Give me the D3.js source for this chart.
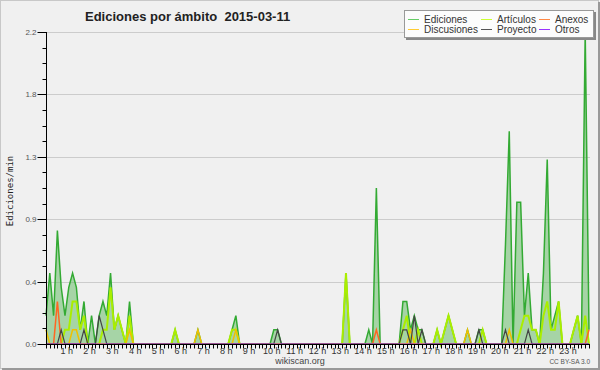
<!DOCTYPE html>
<html lang="es">
<head>
<meta charset="UTF-8">
<title>Ediciones por ámbito 2015-03-11</title>
<script src="https://d3js.org/d3.v7.min.js"></script>
<style>
  body { margin: 0; background: #ffffff; }
  svg { display: block; font-family: "Liberation Sans", Arial, sans-serif; }
  .series { fill: none; stroke-linejoin: miter; }
</style>
</head>
<body>
<svg width="600" height="370"></svg>
<script>
// one value every 10 minutes, 00:00 .. 23:50 (edits per minute)
const ediciones = [
  0.2,0.5,0.2,0.8,0.4,0.2,0.4,0.5,0.4,0.1,0.3,0,
  0.2,0,0.2,0.3,0.2,0.5,0.1,0.2,0.1,0,0.3,0,
  0,0,0,0,0,0,0,0,0,0,0.1,0,
  0,0,0,0,0.1,0,0,0,0,0,0,0,
  0,0.1,0.2,0,0,0,0,0,0,0,0,0,
  0.1,0.1,0,0,0,0,0,0,0,0,0,0,
  0,0,0,0,0,0,0,0.5,0,0,0,0,
  0,0.1,0,1.1,0,0,0,0,0,0,0.3,0.3,
  0.1,0.2,0.1,0.1,0,0,0,0.1,0,0.1,0.2,0.1,
  0,0,0,0.1,0,0,0.1,0.1,0,0,0,0,
  0,0.7,1.5,0,1.0,1.0,0.2,0.5,0.1,0.1,0,0.5,
  1.3,0.1,0.2,0.3,0,0,0,0.1,0.2,0,2.2,0.1
];
const articulos = [
  0,0,0,0,0,0.1,0.1,0.3,0.3,0.1,0.2,0,
  0,0,0,0.1,0.1,0.4,0.1,0.2,0.1,0,0.2,0,
  0,0,0,0,0,0,0,0,0,0,0.1,0,
  0,0,0,0,0,0,0,0,0,0,0,0,
  0,0.1,0.1,0,0,0,0,0,0,0,0,0,
  0,0,0,0,0,0,0,0,0,0,0,0,
  0,0,0,0,0,0,0,0.5,0,0,0,0,
  0,0,0,0,0,0,0,0,0,0,0.1,0.2,
  0,0,0.1,0,0,0,0,0.1,0,0.1,0.2,0.1,
  0,0,0,0,0,0,0,0.1,0,0,0,0,
  0,0,0,0,0,0.1,0.2,0.2,0.1,0.1,0,0.2,
  0.3,0.1,0.1,0.3,0,0,0,0.1,0.2,0,0.2,0
];
const anexos = [
  0,0,0,0.3,0,0,0,0,0,0,0,0,
  0,0,0,0,0,0,0,0,0,0,0,0,
  0,0,0,0,0,0,0,0,0,0,0,0,
  0,0,0,0,0,0,0,0,0,0,0,0,
  0,0,0,0,0,0,0,0,0,0,0,0,
  0,0,0,0,0,0,0,0,0,0,0,0,
  0,0,0,0,0,0,0,0,0,0,0,0,
  0,0,0,0.1,0,0,0,0,0,0,0,0,
  0,0,0,0,0,0,0,0,0,0,0,0,
  0,0,0,0,0,0,0,0,0,0,0,0,
  0,0,0,0,0,0,0,0,0,0,0,0,
  0,0,0,0,0,0,0,0,0,0,0,0.1
];
const discusiones = [
  0.1,0,0,0,0,0,0,0.1,0.1,0,0,0,
  0,0,0,0,0,0,0,0,0,0,0.1,0,
  0,0,0,0,0,0,0,0,0,0,0,0,
  0,0,0,0,0.1,0,0,0,0,0,0,0,
  0,0,0.1,0,0,0,0,0,0,0,0,0,
  0,0,0,0,0,0,0,0,0,0,0,0,
  0,0,0,0,0,0,0,0,0,0,0,0,
  0,0,0,0,0,0,0,0,0,0,0,0,
  0.1,0,0,0,0,0,0,0,0,0,0,0,
  0,0,0,0.1,0,0,0,0,0,0,0,0,
  0,0,0.1,0,0,0,0,0,0,0,0,0,
  0,0,0,0,0,0,0,0,0,0,0,0
];
const proyecto = [
  0,0,0,0,0.1,0,0,0,0,0,0.1,0,
  0,0,0.2,0.1,0,0,0,0,0,0,0,0,
  0,0,0,0,0,0,0,0,0,0,0,0,
  0,0,0,0,0,0,0,0,0,0,0,0,
  0,0,0,0,0,0,0,0,0,0,0,0,
  0,0.1,0,0,0,0,0,0,0,0,0,0,
  0,0,0,0,0,0,0,0,0,0,0,0,
  0,0,0,0,0,0,0,0,0,0,0.1,0.1,
  0,0.2,0,0.1,0,0,0,0,0,0,0,0,
  0,0,0,0,0,0,0.1,0,0,0,0,0,
  0,0.1,0,0,0,0,0,0.1,0,0,0,0,
  0,0,0,0,0,0,0,0,0,0,0,0
];
const otros = [
  0,0,0,0,0,0,0,0,0,0,0,0,
  0,0,0,0,0,0,0,0,0,0,0,0,
  0,0,0,0,0,0,0,0,0,0,0,0,
  0,0,0,0,0,0,0,0,0,0,0,0,
  0,0,0,0,0,0,0,0,0,0,0,0,
  0,0,0,0,0,0,0,0,0,0,0,0,
  0,0,0,0,0,0,0,0,0,0,0,0,
  0,0,0,0,0,0,0,0,0,0,0,0,
  0,0,0,0,0,0,0,0,0,0,0,0,
  0,0,0,0,0,0,0,0,0,0,0,0,
  0,0,0,0,0,0,0,0,0,0,0,0,
  0,0,0,0,0,0,0,0,0,0,0,0
];
const yTicks = [0, 0.44, 0.88, 1.32, 1.76, 2.2];
const hourLabels = ["1 h","2 h","3 h","4 h","5 h","6 h","7 h","8 h","9 h","10 h","11 h","12 h",
  "13 h","14 h","15 h","16 h","17 h","18 h","19 h","20 h","21 h","22 h","23 h"];

// drawing order: total first, the scopes on top of it
const series = [
  {name: "Ediciones", values: ediciones, color: "#33aa33", width: 1.5},
  {name: "Artículos", values: articulos, color: "#aaee00", width: 2},
  {name: "Anexos", values: anexos, color: "#ff6622", width: 1.5},
  {name: "Discusiones", values: discusiones, color: "#f0c000", width: 1.5},
  {name: "Proyecto", values: proyecto, color: "#444444", width: 1.2},
  {name: "Otros", values: otros, color: "#9933ff", width: 1.2}
];

const svg = d3.select("svg");
const W = 600, H = 370;

// background and frame
svg.append("rect").attr("width", W).attr("height", H).attr("fill", "#f0f0f0");
svg.append("rect").attr("x", 0.5).attr("y", 0.5).attr("width", W - 2).attr("height", H - 2)
  .attr("fill", "none").attr("stroke", "#c8c8c8");
svg.append("line").attr("x1", W - 1).attr("x2", W - 1).attr("y1", 2).attr("y2", H)
  .attr("stroke", "#999").attr("stroke-width", 2);
svg.append("line").attr("x1", 2).attr("x2", W).attr("y1", H - 1).attr("y2", H - 1)
  .attr("stroke", "#999").attr("stroke-width", 2);

const x = d3.scaleLinear().domain([0, 143]).range([46, 589]);
const y = d3.scaleLinear().domain([0, 2.2]).range([344, 32]);

// grid
svg.append("g").selectAll("line")
  .data(yTicks.slice(1))
  .enter().append("line")
    .attr("x1", 46).attr("x2", 590)
    .attr("y1", d => Math.round(y(d)) + 0.5).attr("y2", d => Math.round(y(d)) + 0.5)
    .attr("stroke", "#cccccc");

// ediciones area
svg.append("path")
  .datum(ediciones)
  .attr("fill", "#5cb85c")
  .attr("fill-opacity", 0.5)
  .attr("d", d3.area().x((d, i) => x(i)).y0(y(0)).y1(d => y(d)));

const line = d3.line().x((d, i) => x(i)).y(d => y(d));
svg.append("g").selectAll("path")
  .data(series)
  .enter().append("path")
    .attr("class", "series")
    .attr("stroke", d => d.color)
    .attr("stroke-width", d => d.width)
    .attr("d", d => line(d.values));

// y axis
const yAxis = svg.append("g").attr("transform", "translate(46.5,0)");
yAxis.append("line").attr("y1", 32).attr("y2", 344.5).attr("stroke", "#000");
yAxis.selectAll(".minor")
  .data(d3.range(0, 21))
  .enter().append("line")
    .attr("x1", -4).attr("x2", 0)
    .attr("y1", d => Math.round(y(d * 0.11)) + 0.5).attr("y2", d => Math.round(y(d * 0.11)) + 0.5)
    .attr("stroke", "#000");
yAxis.selectAll(".major")
  .data(yTicks)
  .enter().append("line")
    .attr("x1", -9).attr("x2", 0)
    .attr("y1", d => Math.round(y(d)) + 0.5).attr("y2", d => Math.round(y(d)) + 0.5)
    .attr("stroke", "#000");
yAxis.selectAll("text")
  .data(yTicks)
  .enter().append("text")
    .attr("x", -10).attr("y", d => y(d) + 3)
    .attr("text-anchor", "end")
    .attr("font-size", "8px")
    .attr("fill", "#555")
    .text(d => d.toFixed(1));

// x axis
const xAxis = svg.append("g").attr("transform", "translate(0,344.5)");
xAxis.append("line").attr("x1", 46).attr("x2", 590).attr("stroke", "#000");
xAxis.selectAll(".tick")
  .data(d3.range(0, 144))
  .enter().append("line")
    .attr("x1", d => Math.round(x(d)) + 0.5).attr("x2", d => Math.round(x(d)) + 0.5)
    .attr("y1", 0).attr("y2", 4)
    .attr("stroke", "#000");
xAxis.selectAll("text")
  .data(hourLabels)
  .enter().append("text")
    .attr("x", (d, i) => x((i + 1) * 6) - 2)
    .attr("y", 9)
    .attr("text-anchor", "middle")
    .attr("font-size", "9px")
    .attr("fill", "#333")
    .text(d => d);

// axis title
svg.append("text")
  .attr("transform", "translate(13,191) rotate(-90)")
  .attr("text-anchor", "middle")
  .attr("font-family", "DejaVu Sans Mono, monospace")
  .attr("font-size", "9px")
  .attr("fill", "#222")
  .text("Ediciones/min");

// title
svg.append("text")
  .attr("x", 85).attr("y", 21)
  .attr("font-size", "13px").attr("font-weight", "bold")
  .attr("fill", "#222")
  .attr("xml:space", "preserve")
  .text("Ediciones por ámbito  2015-03-11");

// credits
svg.append("text").attr("x", 300).attr("y", 364).attr("text-anchor", "middle")
  .attr("font-size", "9px").attr("fill", "#444").text("wikiscan.org");
svg.append("text").attr("x", 590).attr("y", 364).attr("text-anchor", "end")
  .attr("font-size", "6.5px").attr("fill", "#555").text("CC BY-SA 3.0");

// legend
const legendOrder = ["Ediciones", "Artículos", "Anexos", "Discusiones", "Proyecto", "Otros"];
const legendColors = {Ediciones: "#66cc66", "Artículos": "#ccff33", Anexos: "#ff8844",
  Discusiones: "#ffcc33", Proyecto: "#555555", Otros: "#9933ff"};
const colX = [408, 481, 539];
const rowY = [19.5, 29.5];
svg.append("rect").attr("x", 406).attr("y", 12).attr("width", 190).attr("height", 28).attr("fill", "#888");
svg.append("rect").attr("x", 404.5).attr("y", 10.5).attr("width", 189).attr("height", 27)
  .attr("fill", "#fcfcfc").attr("stroke", "#999");
const items = svg.append("g").selectAll("g")
  .data(legendOrder)
  .enter().append("g")
    .attr("transform", (d, i) => `translate(${colX[i % 3]},${rowY[Math.floor(i / 3)]})`);
items.append("line")
  .attr("x1", 0).attr("x2", 11).attr("y1", 0).attr("y2", 0)
  .attr("stroke", d => legendColors[d]).attr("stroke-width", 1);
items.append("text").attr("x", 16).attr("y", 3.5)
  .attr("font-size", "10px").attr("fill", "#333").text(d => d);
</script>
</body>
</html>
